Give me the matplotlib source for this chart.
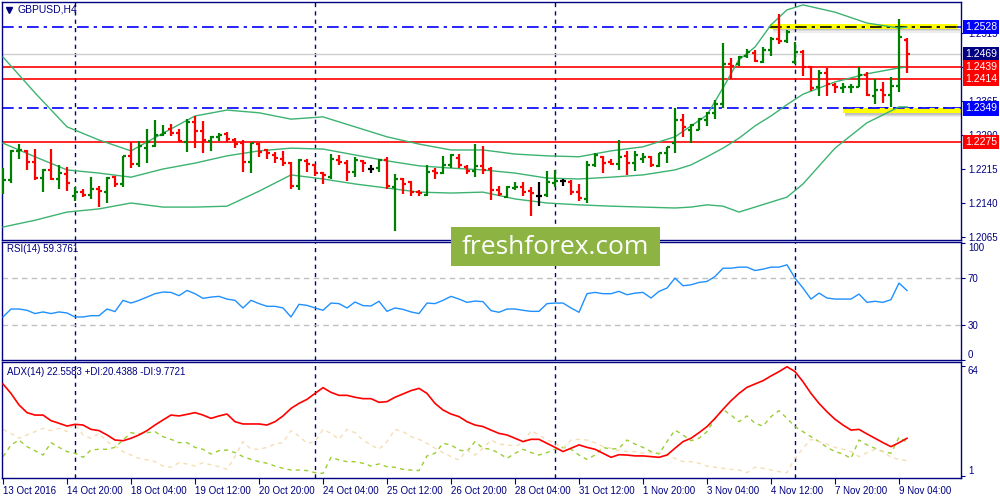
import numpy as np
import matplotlib.pyplot as plt
from matplotlib.patches import Rectangle
from matplotlib.lines import Line2D

plt.rcParams['font.family'] = ['Liberation Sans', 'DejaVu Sans']

NAVY = '#000080'

# GBPUSD H4, 13 Oct 12:00 .. 9 Nov 08:00 (114 bars)
opens = [1.2173, 1.2191, 1.2254, 1.2255, 1.2231, 1.2195, 1.2213, 1.2193, 1.2205, 1.2155,
         1.2165, 1.2157, 1.2170, 1.2165, 1.2197, 1.2183, 1.2243, 1.2226, 1.2262, 1.2266,
         1.2290, 1.2303, 1.2294, 1.2275, 1.2319, 1.2299, 1.2277, 1.2285, 1.2292, 1.2279,
         1.2272, 1.2230, 1.2270, 1.2256, 1.2246, 1.2238, 1.2228, 1.2178, 1.2232, 1.2223,
         1.2207, 1.2198, 1.2235, 1.2229, 1.2209, 1.2233, 1.2214, 1.2217, 1.2235, 1.2175,
         1.2194, 1.2187, 1.2165, 1.2158, 1.2211, 1.2207, 1.2224, 1.2239, 1.2220, 1.2210,
         1.2222, 1.2214, 1.2169, 1.2153, 1.2174, 1.2176, 1.2167, 1.2155, 1.2158, 1.2185,
         1.2189, 1.2187, 1.2165, 1.2148, 1.2224, 1.2241, 1.2231, 1.2226, 1.2244, 1.2229,
         1.2236, 1.2242, 1.2222, 1.2250, 1.2273, 1.2323, 1.2300, 1.2301, 1.2323, 1.2338,
         1.2358, 1.2446, 1.2446, 1.2464, 1.2472, 1.2452, 1.2477, 1.2501, 1.2498, 1.2450,
         1.2474, 1.2441, 1.2395, 1.2426, 1.2400, 1.2394, 1.2395, 1.2396, 1.2422, 1.2376,
         1.2389, 1.2378, 1.2398, 1.2500]
highs = [1.2218, 1.2257, 1.2270, 1.2257, 1.2259, 1.2215, 1.2259, 1.2224, 1.2220, 1.2176,
         1.2171, 1.2197, 1.2178, 1.2197, 1.2200, 1.2244, 1.2275, 1.2276, 1.2303, 1.2323,
         1.2311, 1.2314, 1.2303, 1.2325, 1.2331, 1.2321, 1.2288, 1.2295, 1.2297, 1.2283,
         1.2280, 1.2273, 1.2273, 1.2260, 1.2253, 1.2254, 1.2231, 1.2238, 1.2236, 1.2226,
         1.2209, 1.2248, 1.2247, 1.2235, 1.2241, 1.2235, 1.2224, 1.2236, 1.2241, 1.2204,
         1.2195, 1.2189, 1.2169, 1.2224, 1.2217, 1.2244, 1.2248, 1.2248, 1.2224, 1.2270,
         1.2266, 1.2219, 1.2178, 1.2178, 1.2187, 1.2187, 1.2175, 1.2187, 1.2211, 1.2213,
         1.2194, 1.2190, 1.2183, 1.2233, 1.2250, 1.2244, 1.2236, 1.2279, 1.2255, 1.2255,
         1.2250, 1.2243, 1.2251, 1.2264, 1.2350, 1.2336, 1.2314, 1.2327, 1.2341, 1.2367,
         1.2494, 1.2459, 1.2465, 1.2479, 1.2477, 1.2484, 1.2507, 1.2557, 1.2522, 1.2496,
         1.2477, 1.2442, 1.2433, 1.2437, 1.2404, 1.2405, 1.2403, 1.2441, 1.2430, 1.2413,
         1.2408, 1.2419, 1.2545, 1.2503]
lows = [1.2159, 1.2184, 1.2237, 1.2213, 1.2191, 1.2164, 1.2191, 1.2171, 1.2167, 1.2145,
        1.2153, 1.2149, 1.2131, 1.2140, 1.2175, 1.2175, 1.2218, 1.2219, 1.2229, 1.2264,
        1.2288, 1.2288, 1.2275, 1.2253, 1.2261, 1.2251, 1.2255, 1.2277, 1.2275, 1.2262,
        1.2209, 1.2207, 1.2242, 1.2236, 1.2228, 1.2221, 1.2170, 1.2168, 1.2209, 1.2200,
        1.2183, 1.2194, 1.2223, 1.2189, 1.2198, 1.2209, 1.2207, 1.2209, 1.2172, 1.2079,
        1.2160, 1.2155, 1.2155, 1.2155, 1.2194, 1.2205, 1.2217, 1.2217, 1.2204, 1.2198,
        1.2205, 1.2147, 1.2155, 1.2150, 1.2169, 1.2155, 1.2111, 1.2133, 1.2154, 1.2175,
        1.2178, 1.2158, 1.2145, 1.2141, 1.2220, 1.2207, 1.2224, 1.2213, 1.2202, 1.2211,
        1.2228, 1.2219, 1.2220, 1.2229, 1.2251, 1.2285, 1.2273, 1.2300, 1.2310, 1.2325,
        1.2349, 1.2413, 1.2442, 1.2460, 1.2450, 1.2448, 1.2464, 1.2491, 1.2492, 1.2447,
        1.2420, 1.2386, 1.2376, 1.2375, 1.2382, 1.2383, 1.2383, 1.2395, 1.2376, 1.2358,
        1.2360, 1.2351, 1.2385, 1.2426]
closes = [1.2191, 1.2255, 1.2257, 1.2231, 1.2196, 1.2213, 1.2193, 1.2207, 1.2185, 1.2165,
          1.2157, 1.2170, 1.2167, 1.2195, 1.2182, 1.2243, 1.2226, 1.2266, 1.2275, 1.2291,
          1.2294, 1.2294, 1.2277, 1.2319, 1.2299, 1.2279, 1.2286, 1.2290, 1.2281, 1.2271,
          1.2230, 1.2272, 1.2253, 1.2251, 1.2239, 1.2228, 1.2178, 1.2235, 1.2226, 1.2207,
          1.2202, 1.2236, 1.2230, 1.2209, 1.2235, 1.2228, 1.2214, 1.2235, 1.2178, 1.2194,
          1.2182, 1.2165, 1.2161, 1.2209, 1.2207, 1.2224, 1.2246, 1.2224, 1.2211, 1.2222,
          1.2213, 1.2169, 1.2160, 1.2175, 1.2176, 1.2165, 1.2163, 1.2155, 1.2187, 1.2189,
          1.2189, 1.2165, 1.2150, 1.2224, 1.2246, 1.2229, 1.2226, 1.2242, 1.2229, 1.2246,
          1.2242, 1.2224, 1.2250, 1.2263, 1.2323, 1.2307, 1.2313, 1.2325, 1.2338, 1.2358,
          1.2446, 1.2442, 1.2461, 1.2474, 1.2453, 1.2477, 1.2501, 1.2498, 1.2518, 1.2474,
          1.2439, 1.2393, 1.2426, 1.2403, 1.2395, 1.2396, 1.2397, 1.2422, 1.2378, 1.2389,
          1.2378, 1.2398, 1.2507, 1.2469]

# Bollinger bands read at these bars
bb_idx = [0, 4, 8, 12, 16, 20, 24, 28, 32, 36, 40, 44, 48, 52, 56, 60, 64, 68, 72, 76,
          80, 84, 86, 88, 90, 92, 94, 96, 98, 100, 104, 108, 112, 113]
bb_upper = [1.2462, 1.2383, 1.2308, 1.2279, 1.2255, 1.2294, 1.2332, 1.2345, 1.2339, 1.2325,
            1.2330, 1.2308, 1.2286, 1.2270, 1.2257, 1.2257, 1.2248, 1.2244, 1.2242, 1.2255,
            1.2264, 1.2286, 1.2310, 1.2334, 1.2394, 1.2456, 1.2484, 1.2533, 1.2566, 1.2577,
            1.2561, 1.2537, 1.2526, 1.2528]
bb_mid = [1.2272, 1.2242, 1.2213, 1.2206, 1.2197, 1.2215, 1.2228, 1.2244, 1.2255, 1.2261,
          1.2259, 1.2246, 1.2233, 1.2222, 1.2217, 1.2213, 1.2206, 1.2195, 1.2193, 1.2197,
          1.2202, 1.2213, 1.2224, 1.2242, 1.2261, 1.2283, 1.2310, 1.2332, 1.2357, 1.2380,
          1.2407, 1.2425, 1.2438, 1.2440]
bb_lower = [1.2087, 1.2102, 1.2120, 1.2127, 1.2140, 1.2131, 1.2131, 1.2133, 1.2166, 1.2202,
            1.2193, 1.2182, 1.2173, 1.2164, 1.2162, 1.2164, 1.2149, 1.2140, 1.2136, 1.2133,
            1.2131, 1.2129, 1.2131, 1.2136, 1.2133, 1.2120, 1.2131, 1.2142, 1.2153, 1.2182,
            1.2261, 1.2317, 1.2352, 1.2352]

rsi = [36.8, 43.6, 43.6, 42.5, 39.7, 41.1, 39.7, 41.1, 40.2, 36.8,
       36.8, 37.9, 37.9, 43.6, 41.4, 51.0, 48.7, 51.0, 53.8, 56.7,
       58.1, 57.8, 55.0, 59.5, 56.7, 52.7, 53.8, 54.4, 52.1, 51.0,
       44.5, 51.0, 48.2, 45.9, 45.9, 44.5, 36.8, 47.6, 46.7, 44.5,
       42.5, 48.7, 48.2, 44.5, 49.6, 46.5, 46.2, 50.2, 41.6, 44.5,
       43.3, 41.1, 39.7, 48.7, 48.2, 51.0, 54.4, 52.1, 49.3, 50.4,
       49.9, 42.2, 40.8, 43.6, 43.6, 42.5, 41.6, 41.6, 48.2, 48.7,
       48.7, 44.5, 40.8, 56.7, 57.8, 56.7, 56.7, 58.7, 55.8, 57.2,
       57.8, 53.0, 58.7, 61.5, 70.0, 63.5, 64.3, 66.3, 67.2, 71.4,
       78.5, 78.5, 79.4, 79.4, 76.5, 77.7, 79.4, 79.4, 81.4, 70.0,
       61.5, 52.1, 57.2, 53.0, 52.1, 52.1, 52.1, 56.4, 49.3, 50.2,
       49.3, 51.6, 65.8, 59.4]

adx = [53.7, 48.3, 41.7, 37.3, 35.9, 35.9, 32.7, 31.2, 29.6, 30.6,
       30.2, 27.7, 27.0, 24.5, 21.6, 21.2, 22.6, 24.5, 27.0, 30.2,
       33.1, 35.9, 35.4, 36.3, 37.3, 35.9, 34.0, 35.4, 36.5, 32.1,
       30.8, 30.8, 30.8, 30.2, 32.1, 35.4, 39.7, 42.6, 44.9, 48.3,
       51.6, 48.9, 47.2, 47.2, 46.1, 45.3, 45.3, 43.2, 43.6, 46.1,
       48.0, 49.9, 51.2, 48.3, 42.6, 38.8, 36.5, 35.0, 32.1, 30.2,
       29.3, 27.3, 25.4, 24.5, 22.6, 20.7, 22.0, 22.0, 19.7, 17.4,
       15.0, 16.9, 18.8, 17.4, 16.3, 14.0, 11.7, 13.2, 13.0, 12.5,
       12.5, 12.1, 11.7, 13.0, 16.9, 20.7, 22.6, 25.8, 29.3, 34.0,
       39.2, 44.1, 48.3, 51.8, 53.7, 55.6, 58.3, 60.8, 63.6, 60.8,
       55.0, 48.3, 42.6, 37.8, 33.5, 30.2, 27.3, 27.7, 25.1, 22.6,
       20.1, 17.8, 20.1, 22.6]
plus_di = [12.1, 18.8, 21.6, 17.8, 15.5, 13.0, 20.1, 17.4, 15.0, 14.0,
           11.7, 15.9, 16.3, 16.3, 17.4, 21.6, 25.8, 25.1, 25.8, 26.4,
           23.5, 22.0, 20.1, 20.1, 17.4, 16.3, 13.6, 15.5, 15.9, 14.4,
           12.1, 10.5, 9.2, 8.3, 6.7, 5.4, 4.4, 4.4, 4.1, 2.9,
           2.5, 11.7, 10.2, 9.2, 9.2, 8.3, 6.7, 7.9, 6.3, 6.0,
           4.8, 4.4, 4.1, 12.5, 14.0, 19.7, 18.8, 15.9, 15.0, 20.7,
           16.9, 16.3, 14.0, 11.1, 14.0, 16.3, 14.4, 13.0, 14.4, 16.3,
           17.4, 16.3, 13.0, 10.5, 13.0, 17.4, 16.3, 16.9, 21.6, 19.3,
           17.4, 15.0, 13.6, 20.7, 27.3, 24.5, 21.2, 22.6, 26.4, 34.0,
           39.2, 35.9, 32.1, 35.4, 31.2, 29.6, 35.0, 38.4, 34.0, 29.3,
           26.4, 23.5, 20.7, 17.4, 15.0, 13.6, 11.1, 21.6, 18.8, 16.9,
           15.0, 14.0, 23.2, 20.4]
minus_di = [27.7, 25.4, 22.6, 24.5, 26.4, 28.3, 27.0, 28.3, 26.4, 31.2,
            24.5, 22.6, 25.4, 20.7, 18.2, 15.0, 13.0, 11.1, 10.2, 9.2,
            6.7, 6.0, 8.6, 7.9, 6.7, 8.6, 7.3, 6.3, 4.8, 12.1,
            20.7, 16.3, 16.3, 17.4, 19.3, 20.1, 27.0, 23.9, 19.7, 20.7,
            27.7, 25.4, 22.0, 27.7, 25.8, 21.6, 18.8, 16.3, 20.7, 27.7,
            26.4, 23.5, 22.0, 19.7, 16.9, 14.4, 12.1, 10.2, 15.9, 13.0,
            16.9, 21.6, 19.3, 18.8, 18.2, 19.7, 27.0, 24.5, 21.6, 19.7,
            16.9, 21.6, 22.0, 21.6, 20.1, 17.8, 16.9, 15.5, 15.0, 15.0,
            14.0, 14.4, 14.4, 13.0, 11.1, 9.2, 9.2, 8.3, 6.7, 6.0,
            5.4, 4.8, 4.4, 2.9, 6.0, 5.4, 4.4, 3.5, 2.9, 11.1,
            16.9, 22.0, 20.7, 19.3, 17.4, 16.3, 15.0, 12.1, 14.4, 16.3,
            15.0, 11.7, 10.5, 9.8]

x_tick_idx = [0, 8, 16, 24, 32, 40, 48, 56, 64, 72, 80, 88, 96, 104, 112]
x_tick_labels = ['13 Oct 2016', '14 Oct 20:00', '18 Oct 04:00', '19 Oct 12:00', '20 Oct 20:00',
                 '24 Oct 04:00', '25 Oct 12:00', '26 Oct 20:00', '28 Oct 04:00', '31 Oct 12:00',
                 '1 Nov 20:00', '3 Nov 04:00', '4 Nov 12:00', '7 Nov 20:00', '9 Nov 04:00']
week_starts = [9, 39, 69, 99]

price_ticks = [1.2065, 1.2140, 1.2215, 1.2290, 1.2365, 1.2440, 1.2515]
price_tick_labels = ['1.2065', '1.2140', '1.2215', '1.2290', '1.2365', '', '1.2515']
blue_levels = [1.2528, 1.2349]
red_levels = [1.2439, 1.2414, 1.2275]
bid = 1.2469
price_tags = [(1.2528, '#0000FF'), (1.2469, NAVY), (1.2439, '#FF0000'),
              (1.2414, '#FF0000'), (1.2349, '#0000FF'), (1.2275, '#FF0000')]

# ---------------------------------------------------------------
W, H = 1000.0, 500.0


def box(x0, y0, x1, y1):
    return [x0 / W, 1 - y1 / H, (x1 - x0) / W, (y1 - y0) / H]


fig = plt.figure(figsize=(10, 5), dpi=100)
ax1 = fig.add_axes(box(2, 2, 961, 240))
ax2 = fig.add_axes(box(2, 242, 961, 360))
ax3 = fig.add_axes(box(2, 362, 961, 478))

n = len(closes)
idx = np.arange(n)
o = np.array(opens)
c = np.array(closes)
bar_col = np.where(c > o, '#008000', np.where(c < o, '#FF0000', '#000000'))

for ax in (ax1, ax2, ax3):
    ax.set_xlim(-0.125, 119.75)
    for s in ax.spines.values():
        s.set_color(NAVY)
        s.set_linewidth(1)
    ax.yaxis.tick_right()
    ax.tick_params(axis='y', direction='out', length=3, color=NAVY,
                   labelcolor=NAVY, labelsize=7, pad=2)
    for w in week_starts:
        ax.axvline(w, color=NAVY, lw=1, ls=(0, (3, 3)), zorder=1)

# main price panel
ax1.set_ylim(1.20584, 1.25834)
ax1.set_xticks([])
ax1.set_yticks(price_ticks)
ax1.set_yticklabels(price_tick_labels)

ax1.axhline(bid, color='#CCCCCC', lw=1, zorder=1.5)
for lvl in red_levels:
    ax1.axhline(lvl, color='#FF0000', lw=1.2, zorder=1.6)
for lvl in blue_levels:
    ax1.axhline(lvl, color='#0000FF', lw=1.2, ls=(0, (7, 3, 2, 3)), zorder=1.6)

# yellow highlight zones with a soft shadow
px = 1 / 4533.0
for x0, x1, ytop, yb in [(95.9, 119.3, 1.2528 + 3 * px, 1.2528 - 1.5 * px),
                         (105.0, 119.7, 1.2349, 1.2349 - 5 * px)]:
    for k, a in enumerate([0.35, 0.2, 0.1]):
        ax1.add_patch(Rectangle((x0 + 0.3, yb - (k + 1) * 1.3 * px), x1 - x0,
                                1.3 * px, facecolor='#505050', alpha=a,
                                edgecolor='none', zorder=1.7))
    ax1.add_patch(Rectangle((x0, yb), x1 - x0, ytop - yb, facecolor='#FFFF00',
                            edgecolor='none', zorder=1.8))
ax1.hlines(1.2528, 95.9, 119.3, color='#000000', lw=1.2, ls=(0, (7, 3, 2, 3)), zorder=1.9)
ax1.hlines(1.2349, 105.0, 119.7, color='#0000FF', lw=1.2, ls=(0, (7, 3, 2, 3)), zorder=1.9)

bb_col = '#3CB371'
ax1.plot(bb_idx, bb_upper, color=bb_col, lw=1, zorder=3)
ax1.plot(bb_idx, bb_mid, color=bb_col, lw=1, zorder=3)
ax1.plot(bb_idx, bb_lower, color=bb_col, lw=1, zorder=3)

ax1.vlines(idx, lows, highs, colors=bar_col, lw=1.6, zorder=4)
ax1.hlines(opens, idx - 0.42, idx, colors=bar_col, lw=1.6, zorder=4)
ax1.hlines(closes, idx, idx + 0.42, colors=bar_col, lw=1.6, zorder=4)

for lvl, col in price_tags:
    ax1.text(1.004, lvl, f'{lvl:.4f}', transform=ax1.get_yaxis_transform(),
             color='white', fontsize=7.5, va='center', ha='left', clip_on=False,
             zorder=6, bbox=dict(boxstyle='square,pad=0.22', fc=col, ec='none'))

# RSI panel
ax2.set_ylim(0.5, 100.9)
ax2.set_xticks([])
ax2.axhline(70, color='#C0C0C0', lw=1, ls=(0, (4, 3)), zorder=1)
ax2.axhline(30, color='#C0C0C0', lw=1, ls=(0, (4, 3)), zorder=1)
ax2.plot(idx, rsi, color='#1E90FF', lw=1, zorder=3)
ax2.set_yticks([0, 30, 70, 100])
ax2.set_yticklabels(['0', '30', '70', '100'])
labs = ax2.get_yticklabels()
labs[0].set_va('bottom')
labs[3].set_va('top')

# ADX panel
ax3.set_ylim(-0.15, 66.3)
ax3.plot(idx, plus_di, color='#9ACD32', lw=1, ls=(0, (3, 3)), zorder=2)
ax3.plot(idx, minus_di, color='#F5DEB3', lw=1, ls=(0, (3, 3)), zorder=2)
ax3.plot(idx, adx, color='#FF0000', lw=1.2, zorder=3)
ax3.set_yticks([1, 64])
ax3.set_yticklabels(['1', '64'])
labs = ax3.get_yticklabels()
labs[0].set_va('bottom')
labs[1].set_va('top')
ax3.set_xticks(x_tick_idx)
ax3.set_xticklabels(x_tick_labels, ha='left')
ax3.tick_params(axis='x', direction='out', length=4, color=NAVY,
                labelcolor=NAVY, labelsize=7, pad=1.5)

# captions
fig.add_artist(Line2D([9 / W], [1 - 10 / H], marker='v', ms=4, color=NAVY,
                      transform=fig.transFigure))
fig.text(17 / W, 1 - 10 / H, 'GBPUSD,H4', fontsize=7.5, color=NAVY, va='center')
fig.text(7 / W, 1 - 249 / H, 'RSI(14) 59.3761', fontsize=7, color=NAVY, va='center')
fig.text(7 / W, 1 - 372 / H, 'ADX(14) 22.5583 +DI:20.4388 -DI:9.7721',
         fontsize=7, color=NAVY, va='center')

# watermark
fig.patches.append(Rectangle((451 / W, 1 - 266 / H), 209 / W, 39 / H,
                             transform=fig.transFigure, facecolor='#8DB443',
                             edgecolor='none', zorder=5))
fig.text(555 / W, 1 - 247 / H, 'freshforex.com', color='white', fontsize=19,
         ha='center', va='center', family=['Open Sans', 'DejaVu Sans'], zorder=6)

fig.savefig('out.png', dpi=100)
